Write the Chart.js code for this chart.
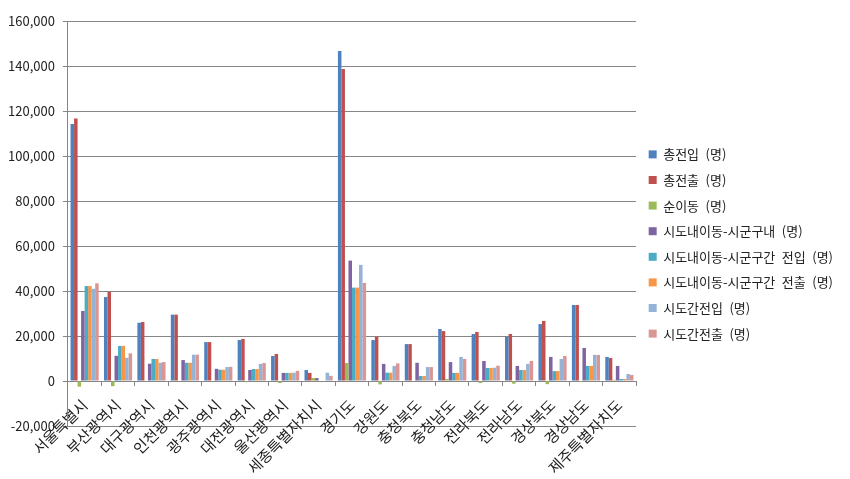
<!DOCTYPE html>
<html>
<head>
<meta charset="utf-8">
<script src="https://cdn.jsdelivr.net/npm/chart.js@4.4.1/dist/chart.umd.min.js"></script>
<style>
  html, body { margin: 0; padding: 0; background: #fff; }
  #wrap { width: 850px; height: 479px; }
</style>
</head>
<body>
<div id="wrap"><canvas id="myChart"></canvas></div>
<script>
const regions = ['서울특별시', '부산광역시', '대구광역시', '인천광역시', '광주광역시', '대전광역시', '울산광역시', '세종특별자치시',
  '경기도', '강원도', '충청북도', '충청남도', '전라북도', '전라남도', '경상북도', '경상남도', '제주특별자치도'];

const totalIn     = [114200, 37300, 25900, 29500, 17300, 18200, 11100, 4900, 146700, 18200, 16400, 23100, 20900, 19700, 25300, 33800, 10700];
const totalOut    = [116700, 39600, 26200, 29500, 17300, 18700, 12000, 3600, 138700, 19700, 16400, 22200, 21800, 20900, 26700, 33800, 10200];
const netMove     = [-2500, -2300, -300, 0, 0, -500, -900, 1300, 8000, -1500, 0, 900, -900, -1200, -1400, -400, 500];
const withinGu    = [31100, 11200, 7700, 9300, 5400, 4900, 3600, 1300, 53500, 7600, 8100, 8400, 8900, 6700, 10700, 14700, 6700];
const betweenIn   = [42200, 15600, 9800, 8100, 5000, 5300, 3600, 0, 41500, 3700, 2200, 3600, 5800, 4900, 4400, 6700, 900];
const betweenOut  = [42200, 15600, 9800, 8100, 5000, 5300, 3600, 0, 41500, 3700, 2200, 3600, 5800, 4900, 4400, 6700, 900];
const interIn     = [41000, 10300, 8100, 11700, 6200, 7600, 3700, 3700, 51600, 6700, 6200, 10700, 5900, 7600, 9800, 11600, 3100];
const interOut    = [43400, 12300, 8400, 11700, 6300, 8000, 4500, 2300, 43600, 7800, 6200, 9800, 6800, 8900, 11100, 11600, 2700];

const yTicks = [-20000, 0, 20000, 40000, 60000, 80000, 100000, 120000, 140000, 160000];

const font = { family: "'Noto Sans CJK KR', 'Noto Sans', sans-serif", size: 13 };
const catFont = { family: "'Noto Sans CJK KR', 'Noto Sans', sans-serif", size: 15 };
const gridColor = '#868686';

function bar(label, data, color) {
  return {
    label: label,
    data: data,
    backgroundColor: color,
    borderColor: color,
    borderWidth: 0,
    categoryPercentage: 8 / 9.5,
    barPercentage: 1.0
  };
}

// legend in the original uses wide spaces
function legendLabels(chart) {
  return Chart.defaults.plugins.legend.labels.generateLabels(chart)
    .map(l => Object.assign(l, { text: l.text.replace(/ /g, '\u2002') }));
}

const config = {
  type: 'bar',
  data: {
    labels: regions,
    datasets: [
      bar('총전입 (명)', totalIn, '#4F81BD'),
      bar('총전출 (명)', totalOut, '#C0504D'),
      bar('순이동 (명)', netMove, '#9BBB59'),
      bar('시도내이동-시군구내 (명)', withinGu, '#8064A2'),
      bar('시도내이동-시군구간 전입 (명)', betweenIn, '#4BACC6'),
      bar('시도내이동-시군구간 전출 (명)', betweenOut, '#F79646'),
      bar('시도간전입 (명)', interIn, '#95B3D7'),
      bar('시도간전출 (명)', interOut, '#D99694')
    ]
  },
  options: {
    responsive: true,
    maintainAspectRatio: false,
    animation: false,
    layout: { padding: { top: 9, left: 0, right: 7, bottom: 0 } },
    plugins: {
      tooltip: { enabled: false },
      // empty spacer above the plot only, so the legend stays centred on the canvas
      title: { display: true, text: '', fullSize: false, padding: 0, font: { size: 10, lineHeight: 1.2 } },
      legend: {
        position: 'right',
        labels: {
          font: font,
          color: '#222',
          boxWidth: 8,
          boxHeight: 8,
          padding: 12.6,
          generateLabels: legendLabels
        }
      }
    },
    scales: {
      x: {
        position: { y: 0 },
        grid: { display: true, drawOnChartArea: false, drawTicks: true, tickLength: 4, color: gridColor, offset: true },
        border: { display: true, color: gridColor },
        ticks: { font: catFont, color: '#222', maxRotation: 45, minRotation: 45, autoSkip: false, padding: 11 }
      },
      xSpace: {
        type: 'category',
        axis: 'x',
        position: 'bottom',
        grid: { display: false },
        border: { display: false },
        ticks: { display: false },
        afterFit: function (s) { s.height = 53; }
      },
      y: {
        min: yTicks[0],
        max: yTicks[yTicks.length - 1],
        afterBuildTicks: function (s) { s.ticks = yTicks.map(v => ({ value: v })); },
        grid: { color: gridColor, tickLength: 5 },
        border: { display: true, color: gridColor },
        ticks: {
          font: font,
          color: '#222',
          padding: 8,
          callback: v => v.toLocaleString('en-US')
        }
      }
    }
  }
};

const myChart = new Chart(document.getElementById('myChart'), config);
</script>
</body>
</html>
